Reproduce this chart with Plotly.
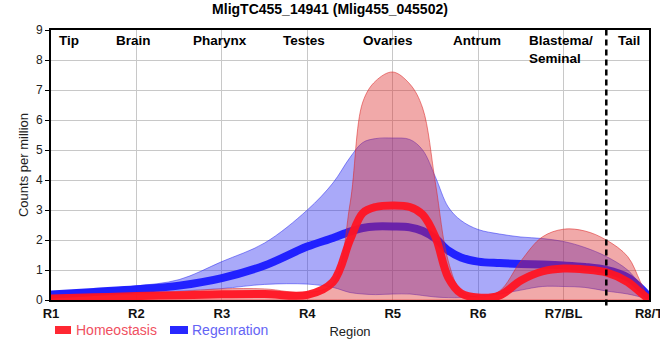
import plotly.graph_objects as go

# ---- data ----
tick_labels = ["R1", "R2", "R3", "R4", "R5", "R6", "R7/BL", "R8/T"]
region_names = ["Tip", "Brain", "Pharynx", "Testes", "Ovaries", "Antrum", "Blastema/<br>Seminal", "Tail"]

# positions along the body (region index, 1 = R1 ... 8 = R8)
pos = [1, 1.5, 2, 2.5, 3, 3.5, 4, 4.3, 4.5, 4.65, 4.8, 5, 5.2, 5.35, 5.5, 5.65, 5.8,
       6, 6.25, 6.5, 6.75, 7, 7.25, 7.5, 7.75, 7.9, 8]

homeo_mean = [0.05, 0.09, 0.13, 0.16, 0.19, 0.20, 0.17, 0.60, 2.00, 2.90, 3.10, 3.15, 3.10, 2.85, 2.10, 0.75, 0.22,
              0.08, 0.15, 0.65, 0.95, 1.05, 1.02, 0.92, 0.60, 0.25, 0.02]
homeo_upper = [0.10, 0.15, 0.20, 0.28, 0.37, 0.37, 0.25, 0.55, 3.20, 6.60, 7.30, 7.60, 7.20, 6.40, 3.90, 1.30, 0.30,
               0.10, 0.30, 1.30, 2.10, 2.36, 2.30, 2.00, 1.45, 0.60, 0.00]
homeo_lower = [0.00, 0.00, 0.00, 0.00, 0.00, 0.00, 0.00, 0.00, 0.00, 0.00, 0.00, 0.00, 0.00, 0.00, 0.00, 0.00, 0.00,
               0.00, 0.00, 0.00, 0.00, 0.00, 0.00, 0.00, 0.00, 0.00, 0.00]

regen_mean = [0.18, 0.27, 0.36, 0.48, 0.73, 1.15, 1.78, 2.07, 2.28, 2.40, 2.45, 2.45, 2.42, 2.30, 2.05, 1.65, 1.42,
              1.28, 1.23, 1.20, 1.18, 1.15, 1.10, 1.00, 0.75, 0.40, 0.10]
regen_upper = [0.28, 0.36, 0.47, 0.68, 1.28, 1.90, 3.00, 3.90, 4.75, 5.25, 5.38, 5.40, 5.35, 5.00, 4.10, 3.10, 2.65,
               2.35, 2.20, 2.10, 2.05, 1.95, 1.75, 1.45, 1.00, 0.50, 0.15]
regen_lower = [0.05, 0.15, 0.24, 0.30, 0.38, 0.52, 0.53, 0.42, 0.25, 0.20, 0.18, 0.20, 0.20, 0.15, 0.10, 0.08, 0.08,
               0.13, 0.20, 0.33, 0.45, 0.45, 0.42, 0.30, 0.20, 0.10, 0.02]

series_names = ["Homeostasis", "Regenration"]
y_label = "Counts per million"
x_label = "Region"
title = "MligTC455_14941 (Mlig455_045502)"

# ---- styling ----
FONT = "Liberation Sans, Arial, sans-serif"
RED_LINE = "rgba(255,20,35,0.95)"
RED_FILL = "rgba(220,40,40,0.40)"
RED_EDGE = "rgba(220,40,40,0.55)"
BLUE_LINE = "rgba(25,25,255,0.95)"
BLUE_FILL = "rgba(40,40,240,0.40)"
BLUE_EDGE = "rgba(40,40,240,0.50)"

fig = go.Figure()
spl = dict(shape="spline", smoothing=1.0)

# regeneration band + mean
fig.add_trace(go.Scatter(x=pos, y=regen_lower, mode="lines",
                         line=dict(color=BLUE_EDGE, width=1, **spl), showlegend=False, hoverinfo="skip"))
fig.add_trace(go.Scatter(x=pos, y=regen_upper, mode="lines", fill="tonexty", fillcolor=BLUE_FILL,
                         line=dict(color=BLUE_EDGE, width=1, **spl), showlegend=False, hoverinfo="skip"))
fig.add_trace(go.Scatter(x=pos, y=regen_mean, mode="lines", name=series_names[1],
                         line=dict(color=BLUE_LINE, width=8, **spl), showlegend=False))

# homeostasis band + mean
fig.add_trace(go.Scatter(x=pos, y=homeo_lower, mode="lines",
                         line=dict(color=RED_EDGE, width=1, **spl), showlegend=False, hoverinfo="skip"))
fig.add_trace(go.Scatter(x=pos, y=homeo_upper, mode="lines", fill="tonexty", fillcolor=RED_FILL,
                         line=dict(color=RED_EDGE, width=1, **spl), showlegend=False, hoverinfo="skip"))
fig.add_trace(go.Scatter(x=pos, y=homeo_mean, mode="lines", name=series_names[0],
                         line=dict(color=RED_LINE, width=8, **spl), showlegend=False))

# region boundary (dashed)
fig.add_shape(type="line", xref="x", yref="paper", x0=7.5, x1=7.5, y0=-0.02, y1=1,
              line=dict(color="black", width=2.5, dash="6px,4px"))

# region names inside top of plot
name_pos = [1.21, 1.96, 2.98, 3.96, 4.95, 5.99, 6.97, 7.76]
for nm, xp in zip(region_names, name_pos):
    fig.add_annotation(x=xp, y=9, xref="x", yref="y", text="<b>%s</b>" % nm, showarrow=False,
                       xanchor="center", yanchor="top", yshift=-1,
                       align="left", font=dict(family=FONT, size=13.5, color="black"))

# manual legend
leg = [(series_names[0], "rgb(255,40,50)", "rgb(240,80,95)", 55, 71, 74),
       (series_names[1], "rgb(40,40,255)", "rgb(100,100,245)", 170, 188, 190)]
for nm, sym, txt, a, b, t in leg:
    fig.add_shape(type="rect", xref="paper", yref="paper",
                  x0=(a - 51) / 598, x1=(b - 51) / 598, y0=(300 - 334) / 270, y1=(300 - 326) / 270,
                  line=dict(width=0), fillcolor=sym)
    fig.add_annotation(x=(t - 51) / 598, y=(300 - 330) / 270, xref="paper", yref="paper", text=nm,
                       showarrow=False, xanchor="left", yanchor="middle",
                       font=dict(family=FONT, size=14, color=txt))

fig.update_layout(
    width=660, height=360,
    margin=dict(l=51, r=11, t=30, b=60, autoexpand=False),
    paper_bgcolor="white", plot_bgcolor="white",
    showlegend=False,
    font=dict(family=FONT, size=12, color="#222"),
    title=dict(text="<b>%s</b>" % title, x=0.5, xanchor="center", y=1 - 9 / 360, yanchor="middle",
               font=dict(family=FONT, size=14, color="black")),
)
fig.update_xaxes(range=[1, 8], tickmode="array", tickvals=list(range(1, 9)),
                 ticktext=["<b>%s</b>" % t for t in tick_labels],
                 tickfont=dict(family=FONT, size=13, color="#111"),
                 ticklabeloverflow="allow",
                 showgrid=True, gridcolor="#c8c8c8", gridwidth=1, zeroline=False,
                 showline=True, linecolor="black", linewidth=2, mirror=True,
                 ticks="", automargin=False,
                 title=dict(text=x_label, standoff=7, font=dict(family=FONT, size=13, color="#222")))
fig.update_yaxes(range=[0, 9], tickmode="array", tickvals=list(range(0, 10)),
                 tickfont=dict(family=FONT, size=12, color="#222"),
                 showgrid=True, gridcolor="#c8c8c8", gridwidth=1, zeroline=False,
                 showline=True, linecolor="black", linewidth=2, mirror=True,
                 ticks="outside", ticklen=4, tickcolor="black", automargin=False,
                 title=dict(text=y_label, standoff=4, font=dict(family=FONT, size=13, color="#222")))

fig.write_html("out.html", config={"displayModeBar": False},
               post_script="document.body.style.margin='0';document.body.style.overflow='hidden';")
